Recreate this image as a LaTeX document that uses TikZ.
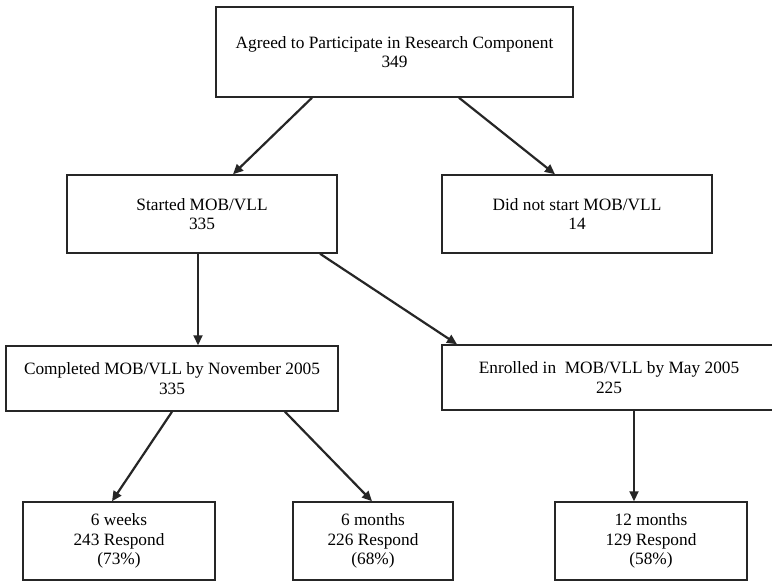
\documentclass[tikz,border=0pt]{standalone}
\usepackage{fontspec}
\setmainfont{Liberation Serif}
\usetikzlibrary{arrows.meta,positioning}

\begin{document}
\begin{tikzpicture}[x=1pt, y=-1pt,
    block/.style={rectangle, draw=black!85, line width=1.5pt, fill=white,
        inner sep=0pt, align=center, font=\fontsize{17.3}{19.5}\selectfont},
    arr/.style={-{Triangle[length=10pt,width=9pt]}, line width=2.2pt, black!85}
]
    \clip (0,0) rectangle (772,581);
    \fill[white] (0,0) rectangle (772,581);

    % Top level
    \node[block, minimum width=357pt, minimum height=90pt] (agree) at (394.5,52)
        {Agreed to Participate in Research Component\\349};

    % Second level
    \node[block, minimum width=270pt, minimum height=78pt] (started) at (202,214)
        {Started MOB/VLL\\335};
    \node[block, minimum width=270pt, minimum height=78pt] (nostart) at (577,214)
        {Did not start MOB/VLL\\14};

    % Third level
    \node[block, minimum width=332pt, minimum height=65pt] (completed) at (172,378.5)
        {Completed MOB/VLL by November 2005\\335};
    \node[block, minimum width=334pt, minimum height=65pt] (enrolled) at (609,377.5)
        {Enrolled in \ MOB/VLL by May 2005\\225};

    % Follow-up
    \node[block, minimum width=192pt, minimum height=78pt] (weeks6) at (119,541)
        {6 weeks\\243 Respond\\(73\%)};
    \node[block, minimum width=160pt, minimum height=78pt] (months6) at (373,541)
        {6 months\\226 Respond\\(68\%)};
    \node[block, minimum width=192pt, minimum height=78pt] (months12) at (651,541)
        {12 months\\129 Respond\\(58\%)};

    % Arrows
    \draw[arr] ([xshift=-82.5pt]agree.south) -- ([xshift=31pt]started.north);
    \draw[arr] ([xshift=64.5pt]agree.south) -- ([xshift=-22pt]nostart.north);
    \draw[arr] ([xshift=-4pt]started.south) -- ([xshift=26pt]completed.north);
    \draw[arr] ([xshift=118pt]started.south) -- ([xshift=-152pt]enrolled.north);
    \draw[arr] (completed.south) -- ([xshift=-7pt]weeks6.north);
    \draw[arr] ([xshift=113pt]completed.south) -- ([xshift=-1pt]months6.north);
    \draw[arr] ([xshift=25pt]enrolled.south) -- ([xshift=-17pt]months12.north);
\end{tikzpicture}
\end{document}
